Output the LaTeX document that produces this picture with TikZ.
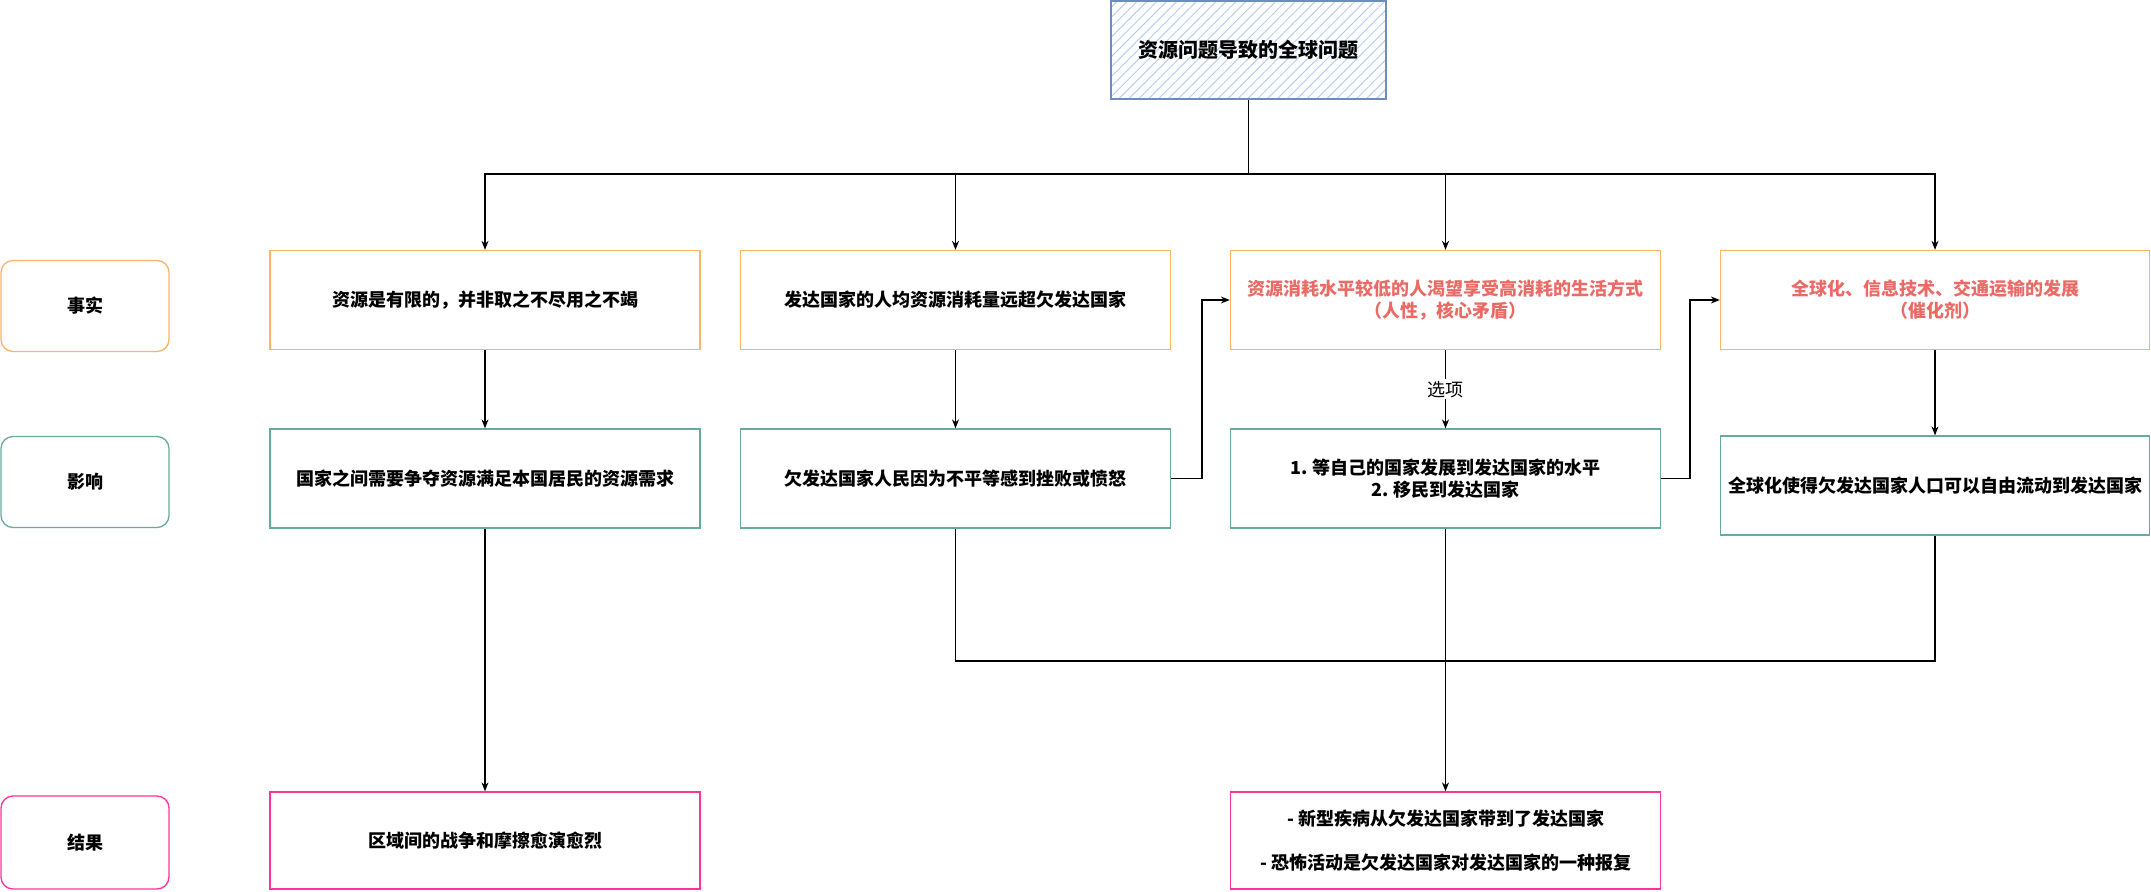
\documentclass[tikz,border=0pt]{standalone}
\usepackage{fontspec}
\setmainfont{Noto Sans CJK SC}
\usetikzlibrary{arrows.meta,patterns.meta}
\definecolor{orangeB}{HTML}{FFB366}
\definecolor{greenB}{HTML}{67AB9F}
\definecolor{pinkB}{HTML}{FF3399}
\definecolor{blueB}{HTML}{6C8EBF}
\definecolor{hatchB}{HTML}{B7CDEF}
\definecolor{redT}{HTML}{EA6B66}
\tikzset{
  box/.style={draw, line width=1.3pt, minimum width=430pt, minimum height=99pt,
    inner sep=0pt, align=center, font=\bfseries\fontsize{18}{22}\selectfont},
  factbox/.style={box, draw=orangeB},
  effbox/.style={box, draw=greenB},
  resbox/.style={box, draw=pinkB},
  tagbox/.style={box, minimum width=168pt, minimum height=91pt, rounded corners=12pt},
  conn/.style={draw=black, line width=1.2pt},
  arr/.style={conn, -{Stealth[length=9pt,width=7pt]}},
}
\begin{document}
\begin{tikzpicture}[x=1pt,y=-1pt]
\useasboundingbox (0,0) rectangle (2151,891);
% top
\node[box, draw=blueB, minimum width=275pt, minimum height=98pt,
  pattern={Lines[angle=45,distance=7pt,line width=1pt]}, pattern color=hatchB,
  font=\bfseries\fontsize{20}{24}\selectfont] (top) at (1248.5,50) {资源问题导致的全球问题};
% tags
\node[tagbox, draw=orangeB] (tf) at (85,306) {事实};
\node[tagbox, draw=greenB] (ti) at (85,482) {影响};
\node[tagbox, draw=pinkB, minimum height=93pt] (tr) at (85,842.5) {结果};
% row 1
\node[factbox] (a1) at (485,300) {资源是有限的，并非取之不尽用之不竭};
\node[factbox] (b1) at (955.5,300) {发达国家的人均资源消耗量远超欠发达国家};
\node[factbox, text=redT] (c1) at (1445.5,300) {资源消耗水平较低的人渴望享受高消耗的生活方式\\（人性，核心矛盾）};
\node[factbox, text=redT, minimum width=429pt] (d1) at (1935,300) {全球化、信息技术、交通运输的发展\\（催化剂）};
% row 2
\node[effbox] (a2) at (485,478.5) {国家之间需要争夺资源满足本国居民的资源需求};
\node[effbox] (b2) at (955.5,478.5) {欠发达国家人民因为不平等感到挫败或愤怒};
\node[effbox] (c2) at (1445.5,478.5) {1. 等自己的国家发展到发达国家的水平\\2. 移民到发达国家};
\node[effbox, minimum width=429pt] (d2) at (1935,485.5) {全球化使得欠发达国家人口可以自由流动到发达国家};
% row 3
\node[resbox, minimum height=97pt] (a3) at (485,840.5) {区域间的战争和摩擦愈演愈烈};
\node[resbox, minimum height=97pt, align=center] (c3) at (1445.5,840.5) {- 新型疾病从欠发达国家带到了发达国家\\[22pt]- 恐怖活动是欠发达国家对发达国家的一种报复};
% connectors from top
\coordinate (hb) at (1248.5,174);
\draw[conn] (top.south) -- (hb);
\draw[arr] (hb) -| (a1.north);
\draw[arr] (hb) -| (b1.north);
\draw[arr] (hb) -| (c1.north);
\draw[arr] (hb) -| (d1.north);
% vertical fact -> effect
\draw[arr] (a1) -- (a2);
\draw[arr] (b1) -- (b2);
\draw[arr] (c1) -- node[fill=white, inner sep=2pt, font=\fontsize{18}{20}\selectfont] (opt) {选项} (c2);
\draw[arr] (d1) -- (d2);
% bends
\coordinate (bk1) at (1202,480);
\coordinate (bk2) at (1690,480);
\draw[arr] (b2.east) -- (b2.east -| bk1) |- (c1.west);
\draw[arr] (c2.east) -- (c2.east -| bk2) |- (d1.west);
% results
\draw[arr] (a2) -- (a3);
\coordinate (mg) at (1445.5,661);
\draw[conn] (b2.south) |- (mg);
\draw[conn] (d2.south) |- (mg);
\draw[arr] (c2) -- (c3);
\end{tikzpicture}
\end{document}
